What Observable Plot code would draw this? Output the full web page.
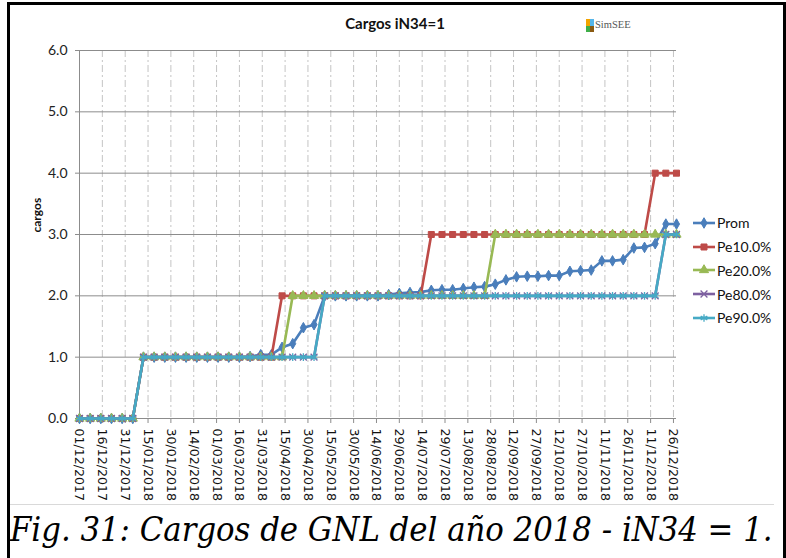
<!DOCTYPE html>
<html><head><meta charset="utf-8">
<script src="https://cdn.jsdelivr.net/npm/d3@7"></script>
<script src="https://cdn.jsdelivr.net/npm/@observablehq/plot@0.6"></script>
<style>
body{margin:0;background:#fff;width:786px;height:558px;overflow:hidden;position:relative;}
#frame{position:absolute;left:7px;top:2px;width:773px;height:553px;border:3px solid #000;border-bottom:none;}
#chart{position:absolute;left:10px;top:5px;}
#areaBottom{position:absolute;left:10px;top:504px;width:764px;height:1px;background:#d9d9d9;}
#title{position:absolute;left:295px;width:200px;top:14px;text-align:center;font:bold 15px Lato, sans-serif;color:#111;}
#logo{position:absolute;left:586px;top:19px;width:8px;height:13px;}
#logo div{position:absolute;width:4px;height:6.5px;}
#logoText{position:absolute;left:595px;top:19px;font:10.5px "Liberation Serif", serif;color:#555;}
#legend{position:absolute;left:692px;top:211px;font:14px Lato, sans-serif;color:#111;}
.lg{height:23.75px;display:flex;align-items:center;}
.lg svg{margin-right:1px;}
#caption{position:absolute;left:10px;top:507px;white-space:nowrap;font-family:"DejaVu Serif Condensed","DejaVu Serif",serif;font-stretch:condensed;font-style:italic;font-size:32px;line-height:44px;color:#000;}
</style></head><body>
<div id="frame"></div>
<div id="chart"></div>
<div id="areaBottom"></div>
<div id="title">Cargos iN34=1</div>
<div id="logo"><div style="left:0;top:0;background:#f2a400"></div><div style="left:4px;top:0;background:#55b6ea"></div><div style="left:0;top:6.5px;background:#3fae49"></div><div style="left:4px;top:6.5px;background:#8a5a12"></div></div>
<div id="logoText">SimSEE</div>
<div id="legend"></div>
<div id="caption">Fig. 31: Cargos de GNL del año 2018 - iN34 = 1.</div>
<script>
// ---- data ----
const dates = ["2017-12-01","2017-12-08","2017-12-15","2017-12-22","2017-12-29",
"2018-01-05","2018-01-12","2018-01-19","2018-01-26","2018-02-02","2018-02-09","2018-02-16","2018-02-23",
"2018-03-02","2018-03-09","2018-03-16","2018-03-23","2018-03-30","2018-04-06","2018-04-13","2018-04-20","2018-04-27",
"2018-05-04","2018-05-11","2018-05-18","2018-05-25","2018-06-01","2018-06-08","2018-06-15","2018-06-22","2018-06-29",
"2018-07-06","2018-07-13","2018-07-20","2018-07-27","2018-08-03","2018-08-10","2018-08-17","2018-08-24","2018-08-31",
"2018-09-07","2018-09-14","2018-09-21","2018-09-28","2018-10-05","2018-10-12","2018-10-19","2018-10-26",
"2018-11-02","2018-11-09","2018-11-16","2018-11-23","2018-11-30","2018-12-07","2018-12-14","2018-12-21","2018-12-28"];

const prom = [0,0,0,0,0,0, 1,1,1,1,1,1,1,1,1, 1.00,1.01,1.04,1.04,1.16,1.22,1.48,1.53,
2,2,2,2,2,2, 2.02,2.04,2.055,2.06,2.09,2.10,2.10,2.12,2.14,2.15,2.19,2.26,2.31,2.32,2.32,2.33,2.33,
2.40,2.41,2.42,2.57,2.57,2.59,2.78,2.79,2.85,3.17,3.17];
const pe10 = [0,0,0,0,0,0, 1,1,1,1,1,1,1,1,1,1,1,1,1, 2,2,2,2,2,2,2,2,2,2,2,2,2,2,
3,3,3,3,3,3,3,3,3,3,3,3,3,3,3,3,3,3,3,3,3, 4,4,4];
const pe20 = [0,0,0,0,0,0, 1,1,1,1,1,1,1,1,1,1,1,1,1,1, 2,2,2,2,2,2,2,2,2,2,2,2,2,2,2,2,2,2,2,
3,3,3,3,3,3,3,3,3,3,3,3,3,3,3,3,3,3];
const pe80 = [0,0,0,0,0,0, 1,1,1,1,1,1,1,1,1,1,1,1,1,1,1,1,1,
2,2,2,2,2,2,2,2,2,2,2,2,2,2,2,2,2,2,2,2,2,2,2,2,2,2,2,2,2,2,2,2, 3,3];
const pe90 = [0,0,0,0,0,0, 1,1,1,1,1,1,1,1,1,1,1,1,1,1,1,1,1,
2,2,2,2,2,2,2,2,2,2,2,2,2,2,2,2,2,2,2,2,2,2,2,2,2,2,2,2,2,2,2,2, 3,3];

const seriesNames = ["Prom","Pe10.0%","Pe20.0%","Pe80.0%","Pe90.0%"];
const seriesValues = [prom, pe10, pe20, pe80, pe90];

const xTickLabels = ["01/12/2017","16/12/2017","31/12/2017","15/01/2018","30/01/2018","14/02/2018","01/03/2018",
"16/03/2018","31/03/2018","15/04/2018","30/04/2018","15/05/2018","30/05/2018","14/06/2018","29/06/2018",
"14/07/2018","29/07/2018","13/08/2018","28/08/2018","12/09/2018","27/09/2018","12/10/2018","27/10/2018",
"11/11/2018","26/11/2018","11/12/2018","26/12/2018"];
const yTicks = [0,1,2,3,4,5,6];

// ---- styles ----
const styles = {
  "Prom":    {color:"#4a7ebb", symbol:"diamond", r:3.2, filled:true},
  "Pe10.0%": {color:"#be4b48", symbol:"square",  r:3.4, filled:true},
  "Pe20.0%": {color:"#98b954", symbol:"triangle",r:3.4, filled:true},
  "Pe80.0%": {color:"#7d60a0", symbol:"times",   r:3.2, filled:false},
  "Pe90.0%": {color:"#46aac5", symbol:"asterisk",r:3.6, filled:false}
};

const parseTick = d3.utcParse("%d/%m/%Y");
const fmtTick = d3.utcFormat("%d/%m/%Y");
const xTicks = xTickLabels.map(parseTick);
const xDates = dates.map(d => new Date(d + "T00:00:00Z"));

const rows = [];
seriesNames.forEach((name, si) => seriesValues[si].forEach((v, i) => rows.push({series: name, date: xDates[i], value: v})));

const seriesMarks = seriesNames.flatMap(name => {
  const st = styles[name];
  const d = rows.filter(r => r.series === name);
  return [
    Plot.line(d, {x:"date", y:"value", stroke: st.color, strokeWidth: 2.6}),
    Plot.dot(d, {x:"date", y:"value", symbol: st.symbol, r: st.r,
      fill: st.filled ? st.color : "none", stroke: st.color, strokeWidth: st.filled ? 1 : 1.3})
  ];
});

const chart = Plot.plot({
  width: 764, height: 499,
  marginLeft: 69, marginRight: 98, marginTop: 45, marginBottom: 86,
  style: {fontFamily: "Lato, sans-serif", background: "transparent", overflow: "visible"},
  x: {type: "utc", domain: [xDates[0], xDates[xDates.length - 1]]},
  y: {domain: [0, 6]},
  marks: [
    Plot.gridX(xTicks, {stroke:"#c4c4c4", strokeOpacity:1, strokeDasharray:"7,3,2,3"}),
    Plot.gridY(yTicks, {stroke:"#8c8c8c", strokeOpacity:1}),
    Plot.ruleX([xDates[0]], {stroke:"#8c8c8c"}),
    Plot.axisX(xTicks, {tickFormat: fmtTick, tickRotate: 90, tickSize: 5, tickPadding: 5,
      fontSize: 12.6, fontFamily: "DejaVu Sans", stroke: "#8c8c8c", fill: "#111", label: null}),
    Plot.axisY(yTicks, {tickFormat: d => d.toFixed(1), tickSize: 4, tickPadding: 8,
      fontSize: 14, stroke: "#8c8c8c", fill: "#222", label: null}),
    Plot.text(["cargos"], {frameAnchor: "left", dx: -42, dy: -2, rotate: -90, fontWeight: "bold", fontSize: 12, fill: "#111"}),
    ...seriesMarks
  ]
});
document.getElementById("chart").appendChild(chart);

// ---- legend ----
const legend = d3.select("#legend");
const symMap = {diamond: d3.symbolDiamond, square: d3.symbolSquare, triangle: d3.symbolTriangle, times: d3.symbolTimes, asterisk: d3.symbolAsterisk};
seriesNames.forEach(name => {
  const st = styles[name];
  const row = legend.append("div").attr("class","lg");
  const svg = row.append("svg").attr("width", 24).attr("height", 12);
  svg.append("line").attr("x1",1).attr("x2",23).attr("y1",6).attr("y2",6).attr("stroke",st.color).attr("stroke-width",2.6);
  svg.append("path").attr("transform","translate(12,6)")
    .attr("d", d3.symbol(symMap[st.symbol], Math.PI * st.r * st.r)())
    .attr("fill", st.filled ? st.color : "none").attr("stroke", st.color).attr("stroke-width", st.filled ? 1 : 1.3);
  row.append("span").text(name);
});

// ---- fit caption to the reference width ----
const cap = document.getElementById("caption");
const w = cap.getBoundingClientRect().width;
if (w > 0) cap.style.fontSize = Math.min(36, 32 * 763 / w) + "px";
</script>
</body></html>
